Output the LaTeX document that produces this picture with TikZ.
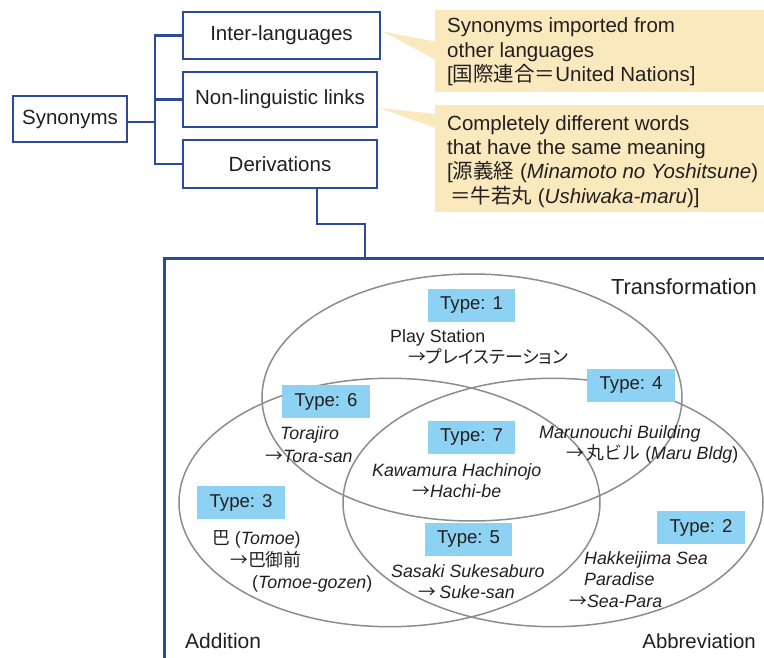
\documentclass[tikz,border=0pt]{standalone}
\usepackage{fontspec}
\setmainfont{Liberation Sans}
\newfontfamily\jp{Noto Sans CJK JP}
\newfontfamily\jpprop[RawFeature=+palt]{Noto Sans CJK JP}
\usetikzlibrary{calc}
\definecolor{ink}{HTML}{231F20}
\definecolor{treeblue}{HTML}{2B4A9B}
\definecolor{notefill}{HTML}{FBE9BE}
\definecolor{typeblue}{HTML}{8DD2F2}
\definecolor{ringgray}{HTML}{8C8C8C}
\begin{document}
\begin{tikzpicture}[x=1pt,y=-1pt,
  treebox/.style={draw=treeblue, line width=2.7pt, fill=white, inner sep=0pt,
    text=ink, font=\fontsize{20.5}{24}\selectfont},
  treeline/.style={draw=treeblue, line width=2.7pt},
  notetext/.style={anchor=base west, inner sep=0pt, text=ink, align=left,
    font=\fontsize{20.5}{24.4}\selectfont},
  typebox/.style={fill=typeblue, minimum width=87.5pt, minimum height=33pt,
    inner sep=0pt, text=ink, font=\fontsize{18.6}{20}\selectfont},
  ring/.style={draw=ringgray, line width=1.5pt},
  example/.style={anchor=base west, inner sep=0pt, text=ink,
    font=\fontsize{17.8}{21}\selectfont},
  setlabel/.style={inner sep=0pt, text=ink, font=\fontsize{21}{24}\selectfont}]
\useasboundingbox (0,0) rectangle (764,658);
\clip (0,0) rectangle (764,658);

% --- classification tree ---
\node[treebox, minimum width=114pt, minimum height=46pt] (syn) at (70,119) {Synonyms};
\node[treebox, minimum width=197pt, minimum height=47pt] (inter) at (281.5,35.5) {Inter-languages};
\node[treebox, minimum width=194pt, minimum height=55pt] (nonling) at (280,99.5) {Non-linguistic links};
\node[treebox, minimum width=194pt, minimum height=48pt] (deriv) at (280,164) {Derivations};
\coordinate (bus) at (155,119);
\draw[treeline] (inter.west) -| (bus) |- (deriv.west);
\draw[treeline] (nonling.west) -- (nonling.west -| bus);
\draw[treeline] ($(syn.east)+(0,3)$) -- ($(syn.east -| bus)+(0,3)$);

% --- frame holding the set diagram ---
\coordinate (frametop) at (365,258.5);
\coordinate (framecorner) at (164.5,258.5);
\draw[treeline] ([xshift=37pt]deriv.south) -- ++(0,34.7) -| (frametop);
\draw[treeline] (164.5,670) -- (framecorner) -- (780,258.5);

% --- explanatory notes (anchored at the baseline of their last line) ---
\fill[notefill] (435,10) rectangle (770,92);
\fill[notefill] (435,105) rectangle (770,212);
\fill[notefill] ($(inter.east)+(1.5,-4)$) -- (436,41.7) -- (436,60) -- cycle;
\fill[notefill] ($(nonling.east)+(1,8.5)$) -- (436,114) -- (436,128) -- cycle;
\node[notetext] (note1) at (447,81.7) {Synonyms imported from\\other languages\\{[}{\jp 国際連合＝}United Nations]};
\node[notetext] (note2) at (447,203.3) {Completely different words\\that have the same meaning\\{[}{\jp 源義経} (\textit{Minamoto no Yoshitsune})\\\hspace*{3pt}{\jp ＝牛若丸} (\textit{Ushiwaka-maru})]};

% --- three overlapping sets ---
\draw[ring] (472,397.5) ellipse [x radius=210, y radius=123.5];
\draw[ring] (389.5,502.5) ellipse [x radius=210.5, y radius=124.2];
\draw[ring] (553,502.5) ellipse [x radius=210, y radius=124.2];

\node[setlabel, anchor=base east, font=\fontsize{21.8}{24}\selectfont] (transf) at (757,294.5) {Transformation};
\node[setlabel, anchor=base west] (addit) at (185,648) {Addition};
\node[setlabel, anchor=base east, font=\fontsize{20.4}{24}\selectfont] (abbrev) at (756,648.5) {Abbreviation};

\node[typebox] (t1) at (471.5,305.5) {Type: 1};
\node[typebox] (t6) at (326,401.5) {Type: 6};
\node[typebox] (t4) at (631,385.5) {Type: 4};
\node[typebox] (t7) at (471.5,437) {Type: 7};
\node[typebox] (t3) at (241,502.5) {Type: 3};
\node[typebox] (t5) at (468.5,539) {Type: 5};
\node[typebox] (t2) at (701,527.5) {Type: 2};

% examples
\node[example] (e1a) at (390,342) {Play Station};
\node[example] (e1b) at (408,363) {{\jp →}{\jpprop プレイステーション}};
\node[example] (e6a) at (280,439.5) {\textit{Torajiro}};
\node[example] (e6b) at (265,462) {{\jp →}\textit{Tora-san}};
\node[example] (e7a) at (372,476.5) {\textit{Kawamura Hachinojo}};
\node[example] (e7b) at (412,497) {{\jp →}\textit{Hachi-be}};
\node[example] (e4a) at (539,438.5) {\textit{Marunouchi Building}};
\node[example] (e4b) at (566,459.5) {{\jp →}\,{\jp 丸ビル} (\textit{Maru Bldg})};
\node[example] (e3a) at (212,544.5) {{\jp 巴} (\textit{Tomoe})};
\node[example] (e3b) at (230,566.5) {\jp →巴御前};
\node[example] (e3c) at (252,588) {(\textit{Tomoe-gozen})};
\node[example] (e5a) at (391,577) {\textit{Sasaki Sukesaburo}};
\node[example] (e5b) at (418.5,598) {{\jp →}\,\textit{Suke-san}};
\node[example] (e2a) at (584,564.5) {\textit{Hakkeijima Sea}};
\node[example] (e2b) at (584,585.5) {\textit{Paradise}};
\node[example] (e2c) at (569,607.5) {{\jp →}\textit{Sea-Para}};
\end{tikzpicture}
\end{document}
